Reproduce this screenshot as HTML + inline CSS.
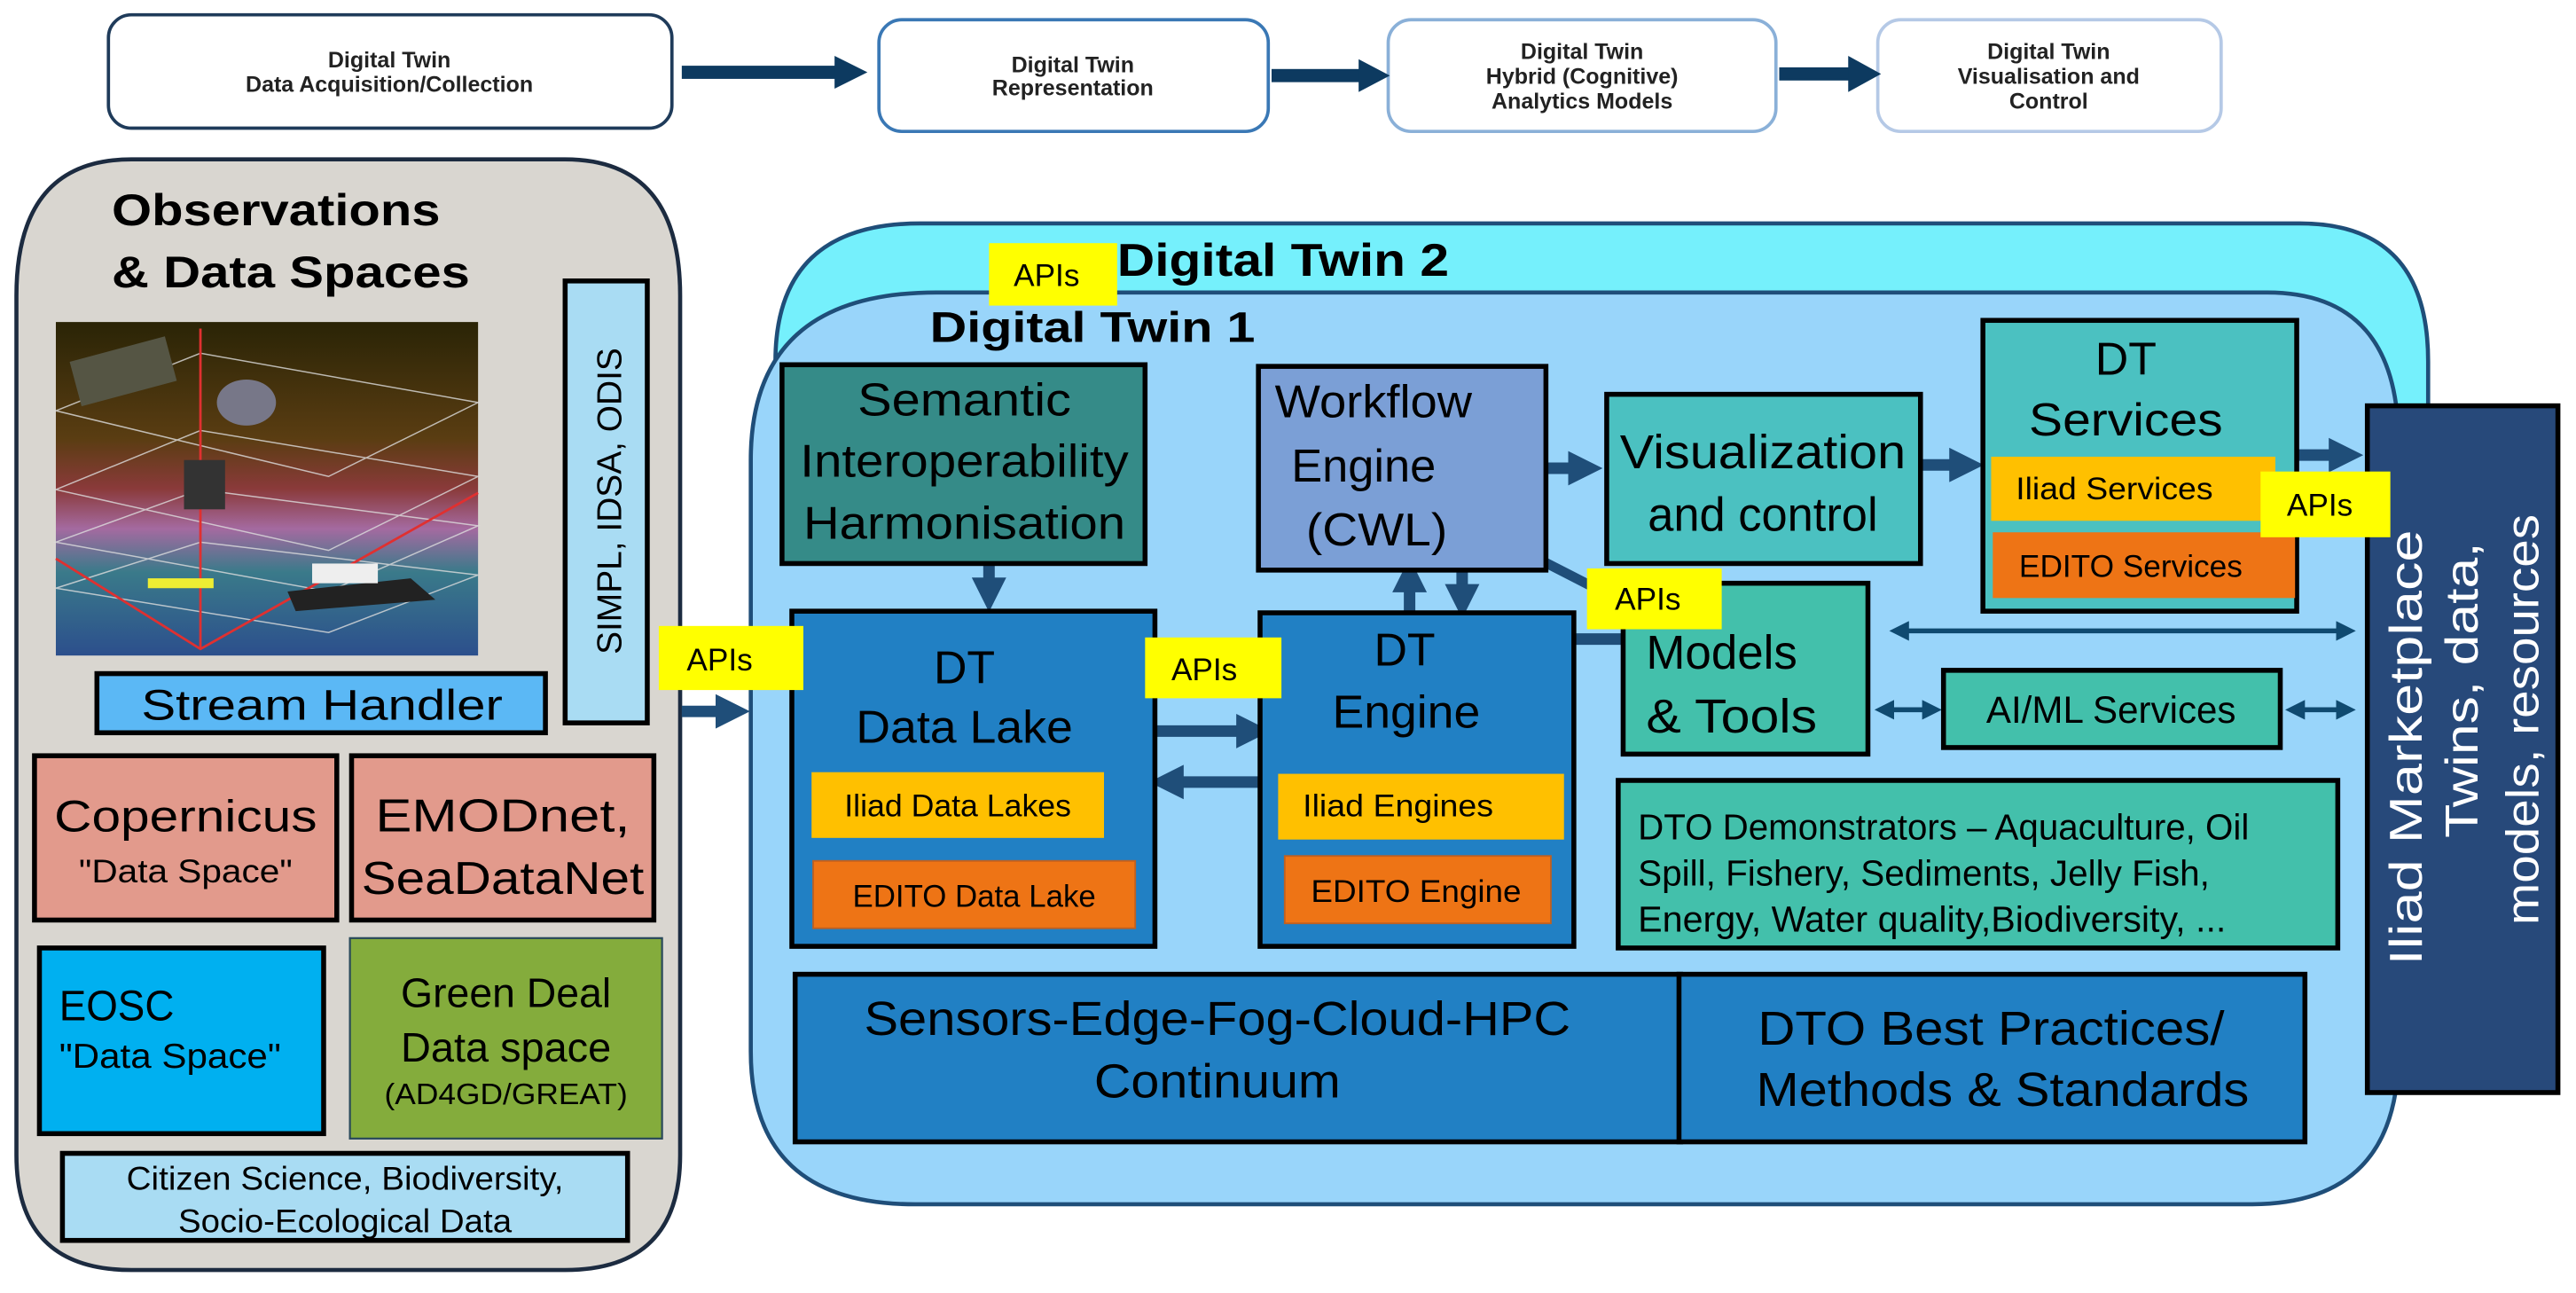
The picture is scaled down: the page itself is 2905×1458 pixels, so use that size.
<!DOCTYPE html>
<html><head><meta charset="utf-8"><style>
html,body{margin:0;padding:0;background:#fff}
svg{display:block}
text{font-family:"Liberation Sans",sans-serif}
</style></head><body>
<svg width="2905" height="1458" viewBox="0 0 1568 787" preserveAspectRatio="none" xmlns="http://www.w3.org/2000/svg">
<defs>
<marker id="ah" markerWidth="4" markerHeight="4" refX="2" refY="2" orient="auto" markerUnits="strokeWidth"><path d="M0,0 L4,2 L0,4 z" fill="#0f4a70"/></marker>
<marker id="ahs" markerWidth="4" markerHeight="4" refX="2" refY="2" orient="auto-start-reverse" markerUnits="strokeWidth"><path d="M0,0 L4,2 L0,4 z" fill="#0f4a70"/></marker>
<marker id="fat" markerWidth="3" markerHeight="3" refX="1.5" refY="1.5" orient="auto" markerUnits="strokeWidth"><path d="M0,0 L3,1.5 L0,3 z" fill="#1f4e79"/></marker>
<linearGradient id="sky" x1="0" y1="0" x2="0" y2="1"><stop offset="0" stop-color="#2a2406"/><stop offset="0.35" stop-color="#5a3d12"/><stop offset="0.5" stop-color="#8a3a3a"/><stop offset="0.62" stop-color="#a46aa0"/><stop offset="0.75" stop-color="#3a7a8a"/><stop offset="1" stop-color="#2c4f8c"/></linearGradient>
</defs>

<g font-weight="bold" font-size="13.5" text-anchor="middle" fill="#222">
<rect x="66" y="9" width="343" height="69" rx="14" fill="#fff" stroke="#1f3b5a" stroke-width="2"/>
<text x="237" y="41">Digital Twin</text><text x="237" y="56">Data Acquisition/Collection</text>
<rect x="535" y="12" width="237" height="68" rx="14" fill="#fff" stroke="#3a78b5" stroke-width="2"/>
<text x="653" y="44">Digital Twin</text><text x="653" y="58">Representation</text>
<rect x="845" y="12" width="236" height="68" rx="14" fill="#fff" stroke="#8ab0d8" stroke-width="2"/>
<text x="963" y="36">Digital Twin</text><text x="963" y="51">Hybrid (Cognitive)</text><text x="963" y="66">Analytics Models</text>
<rect x="1143" y="12" width="209" height="68" rx="14" fill="#fff" stroke="#b5c9e6" stroke-width="2"/>
<text x="1247" y="36">Digital Twin</text><text x="1247" y="51">Visualisation and</text><text x="1247" y="66">Control</text>
</g>
<g fill="#0d3a60">
<rect x="415" y="40" width="95" height="8"/><path d="M508,34 L528,44 L508,54 z"/>
<rect x="774" y="42" width="55" height="8"/><path d="M827,36 L846,46 L827,56 z"/>
<rect x="1083" y="41" width="44" height="8"/><path d="M1125,34 L1145,45 L1125,56 z"/>
</g>

<path d="M80,97 H344 Q414,97 414,180 V703 Q414,773 344,773 H80 Q10,773 10,703 V180 Q10,97 80,97 z" fill="#d9d6d0" stroke="#1c2b40" stroke-width="2.5"/>
<text x="68" y="137" font-size="27" font-weight="bold" fill="#000" textLength="200" lengthAdjust="spacingAndGlyphs">Observations</text>
<text x="68" y="175" font-size="27" font-weight="bold" fill="#000" textLength="218" lengthAdjust="spacingAndGlyphs">&amp; Data Spaces</text>
<rect x="34" y="196" width="257" height="203" fill="url(#sky)"/>
<g stroke="#ddd" stroke-width="0.8" fill="none" opacity="0.8">
<path d="M34,250 L122,215 L291,245 L200,290 z"/><path d="M34,298 L122,262 L291,290 L200,335 z"/><path d="M34,330 L122,298 L291,320 L200,360 z"/><path d="M34,358 L122,330 L291,350 L200,385 z"/>
</g>
<path d="M122,200 V395 M34,340 L122,395 L291,300" stroke="#e03030" stroke-width="1.5" fill="none"/>
<ellipse cx="150" cy="245" rx="18" ry="14" fill="#778"/><rect x="45" y="212" width="60" height="28" fill="#554" transform="rotate(-15 75 226)"/>
<rect x="112" y="280" width="25" height="30" fill="#333"/>
<path d="M175,360 L250,352 L265,365 L180,372 z" fill="#222"/><rect x="190" y="343" width="40" height="12" fill="#eee"/>
<rect x="90" y="352" width="40" height="6" fill="#ee3"/>
<rect x="344" y="171" width="50" height="269" fill="#a9dcf3" stroke="#000" stroke-width="3"/>
<text transform="translate(378,305) rotate(-90)" font-size="21" text-anchor="middle" fill="#000">SIMPL, IDSA, ODIS</text>
<rect x="59" y="410" width="273" height="36" fill="#5bb8f5" stroke="#000" stroke-width="3"/>
<text x="196" y="438" font-size="26" text-anchor="middle" textLength="220" lengthAdjust="spacingAndGlyphs">Stream Handler</text>
<rect x="21" y="460" width="184" height="100" fill="#e29a8c" stroke="#000" stroke-width="3"/>
<text x="113" y="506" font-size="27" text-anchor="middle" textLength="160" lengthAdjust="spacingAndGlyphs">Copernicus</text>
<text x="113" y="537" font-size="20" text-anchor="middle" textLength="130" lengthAdjust="spacingAndGlyphs">"Data Space"</text>
<rect x="214" y="460" width="184" height="100" fill="#e29a8c" stroke="#000" stroke-width="3"/>
<text x="306" y="506" font-size="28" text-anchor="middle" textLength="155" lengthAdjust="spacingAndGlyphs">EMODnet,</text>
<text x="306" y="544" font-size="28" text-anchor="middle" textLength="172" lengthAdjust="spacingAndGlyphs">SeaDataNet</text>
<rect x="24" y="577" width="173" height="113" fill="#00b0f0" stroke="#000" stroke-width="3"/>
<text x="36" y="621" font-size="26" textLength="70" lengthAdjust="spacingAndGlyphs">EOSC</text>
<text x="36" y="650" font-size="21" textLength="135" lengthAdjust="spacingAndGlyphs">"Data Space"</text>
<rect x="213" y="571" width="190" height="122" fill="#84ac3c" stroke="#2a4a5a" stroke-width="1.2"/>
<text x="308" y="613" font-size="25" text-anchor="middle" textLength="128" lengthAdjust="spacingAndGlyphs">Green Deal</text>
<text x="308" y="646" font-size="25" text-anchor="middle" textLength="128" lengthAdjust="spacingAndGlyphs">Data space</text>
<text x="308" y="672" font-size="18" text-anchor="middle" textLength="148" lengthAdjust="spacingAndGlyphs">(AD4GD/GREAT)</text>
<rect x="38" y="702" width="344" height="53" fill="#a9dcf3" stroke="#000" stroke-width="3"/>
<text x="210" y="724" font-size="20" text-anchor="middle" textLength="266" lengthAdjust="spacingAndGlyphs">Citizen Science, Biodiversity,</text>
<text x="210" y="750" font-size="20" text-anchor="middle" textLength="203" lengthAdjust="spacingAndGlyphs">Socio-Ecological Data</text>

<path d="M560,136 H1400 Q1478,136 1478,220 V500 H472 V220 Q472,136 560,136 z" fill="#75f0fc" stroke="#1f4e79" stroke-width="2.5"/>
<path d="M570,178 H1380 Q1460,178 1460,270 V640 Q1460,733 1370,733 H557 Q457,733 457,640 V280 Q457,178 570,178 z" fill="#99d5fa" stroke="#1f4e79" stroke-width="2.5"/>
<text x="680" y="168" font-size="28" font-weight="bold" textLength="202" lengthAdjust="spacingAndGlyphs">Digital Twin 2</text>
<text x="566" y="208" font-size="26" font-weight="bold" textLength="198" lengthAdjust="spacingAndGlyphs">Digital Twin 1</text>

<g stroke="#1f4e79" stroke-width="7" fill="none">
<line x1="415" y1="433" x2="446" y2="433" marker-end="url(#fat)"/>
<line x1="602" y1="343" x2="602" y2="362" marker-end="url(#fat)"/>
<line x1="697" y1="445" x2="763" y2="445" marker-end="url(#fat)"/>
<line x1="768" y1="476" x2="710" y2="476" marker-end="url(#fat)"/>
<line x1="858" y1="372" x2="858" y2="350" marker-end="url(#fat)"/>
<line x1="890" y1="340" x2="890" y2="366" marker-end="url(#fat)"/>
<line x1="935" y1="285" x2="965" y2="285" marker-end="url(#fat)"/>
<line x1="1169" y1="283" x2="1197" y2="283" marker-end="url(#fat)"/>
<line x1="1398" y1="277" x2="1428" y2="277" marker-end="url(#fat)"/>
<line x1="988" y1="389" x2="941" y2="389" marker-end="url(#fat)"/>
<line x1="936" y1="340" x2="975" y2="360" stroke-width="6"/>
</g>
<g stroke="#0f4a70" stroke-width="3" fill="none">
<line x1="1156" y1="384" x2="1428" y2="384" marker-start="url(#ahs)" marker-end="url(#ah)"/>
<line x1="1147" y1="432" x2="1176" y2="432" marker-start="url(#ahs)" marker-end="url(#ah)"/>
<line x1="1397" y1="432" x2="1428" y2="432" marker-start="url(#ahs)" marker-end="url(#ah)"/>
</g>

<rect x="476" y="222" width="221" height="121" fill="#358b88" stroke="#000" stroke-width="3"/>
<g font-size="28" text-anchor="middle">
<text x="587" y="253" textLength="130" lengthAdjust="spacingAndGlyphs">Semantic</text>
<text x="587" y="290" textLength="200" lengthAdjust="spacingAndGlyphs">Interoperability</text>
<text x="587" y="328" textLength="196" lengthAdjust="spacingAndGlyphs">Harmonisation</text>
</g>
<rect x="482" y="372" width="221" height="204" fill="#2180c4" stroke="#000" stroke-width="3"/>
<text x="587" y="416" font-size="28" text-anchor="middle">DT</text>
<text x="587" y="452" font-size="28" text-anchor="middle" textLength="132" lengthAdjust="spacingAndGlyphs">Data Lake</text>
<rect x="494" y="470" width="178" height="40" fill="#ffc000"/>
<text x="583" y="497" font-size="19" text-anchor="middle" textLength="138" lengthAdjust="spacingAndGlyphs">Iliad Data Lakes</text>
<rect x="495" y="524" width="196" height="41" fill="#ee7415" stroke="#c06020" stroke-width="1"/>
<text x="593" y="552" font-size="19" text-anchor="middle" textLength="148" lengthAdjust="spacingAndGlyphs">EDITO Data Lake</text>

<rect x="766" y="223" width="175" height="124" fill="#7b9fd6" stroke="#000" stroke-width="3"/>
<g font-size="28" text-anchor="middle">
<text x="836" y="254" textLength="120" lengthAdjust="spacingAndGlyphs">Workflow</text>
<text x="830" y="293" textLength="88" lengthAdjust="spacingAndGlyphs">Engine</text>
<text x="838" y="332" textLength="86" lengthAdjust="spacingAndGlyphs">(CWL)</text>
</g>
<rect x="767" y="373" width="191" height="203" fill="#2180c4" stroke="#000" stroke-width="3"/>
<text x="855" y="405" font-size="28" text-anchor="middle">DT</text>
<text x="856" y="443" font-size="28" text-anchor="middle" textLength="90" lengthAdjust="spacingAndGlyphs">Engine</text>
<rect x="778" y="471" width="174" height="40" fill="#ffc000"/>
<text x="851" y="497" font-size="19" text-anchor="middle" textLength="116" lengthAdjust="spacingAndGlyphs">Iliad Engines</text>
<rect x="782" y="521" width="162" height="41" fill="#ee7415" stroke="#c06020" stroke-width="1"/>
<text x="862" y="549" font-size="19" text-anchor="middle" textLength="128" lengthAdjust="spacingAndGlyphs">EDITO Engine</text>

<rect x="978" y="240" width="191" height="103" fill="#4bc1c1" stroke="#000" stroke-width="3"/>
<text x="1073" y="285" font-size="29" text-anchor="middle" textLength="174" lengthAdjust="spacingAndGlyphs">Visualization</text>
<text x="1073" y="323" font-size="29" text-anchor="middle" textLength="140" lengthAdjust="spacingAndGlyphs">and control</text>

<rect x="1207" y="195" width="191" height="177" fill="#4bc1c1" stroke="#000" stroke-width="3"/>
<text x="1294" y="228" font-size="28" text-anchor="middle">DT</text>
<text x="1294" y="265" font-size="28" text-anchor="middle" textLength="118" lengthAdjust="spacingAndGlyphs">Services</text>
<rect x="1212" y="278" width="173" height="39" fill="#ffc000"/>
<text x="1227" y="304" font-size="19" textLength="120" lengthAdjust="spacingAndGlyphs">Iliad Services</text>
<rect x="1213" y="324" width="184" height="40" fill="#ee7415"/>
<text x="1229" y="351" font-size="19" textLength="136" lengthAdjust="spacingAndGlyphs">EDITO Services</text>

<rect x="988" y="355" width="149" height="104" fill="#43c0ab" stroke="#000" stroke-width="3"/>
<text x="1002" y="407" font-size="29" textLength="92" lengthAdjust="spacingAndGlyphs">Models</text>
<text x="1002" y="446" font-size="29" textLength="104" lengthAdjust="spacingAndGlyphs">&amp; Tools</text>
<rect x="1183" y="408" width="205" height="47" fill="#43c0ab" stroke="#000" stroke-width="3"/>
<text x="1285" y="440" font-size="23" text-anchor="middle" textLength="152" lengthAdjust="spacingAndGlyphs">AI/ML Services</text>
<rect x="985" y="475" width="438" height="102" fill="#43c0ab" stroke="#000" stroke-width="3"/>
<g font-size="22">
<text x="997" y="511" textLength="372" lengthAdjust="spacingAndGlyphs">DTO Demonstrators – Aquaculture, Oil</text>
<text x="997" y="539" textLength="348" lengthAdjust="spacingAndGlyphs">Spill, Fishery, Sediments, Jelly Fish,</text>
<text x="997" y="567" textLength="358" lengthAdjust="spacingAndGlyphs">Energy, Water quality,Biodiversity, ...</text>
</g>

<rect x="484" y="593" width="539" height="102" fill="#2180c4" stroke="#000" stroke-width="3"/>
<text x="741" y="630" font-size="29" text-anchor="middle" textLength="430" lengthAdjust="spacingAndGlyphs">Sensors-Edge-Fog-Cloud-HPC</text>
<text x="741" y="668" font-size="29" text-anchor="middle" textLength="150" lengthAdjust="spacingAndGlyphs">Continuum</text>
<rect x="1022" y="593" width="381" height="102" fill="#2180c4" stroke="#000" stroke-width="3"/>
<text x="1212" y="636" font-size="29" text-anchor="middle" textLength="284" lengthAdjust="spacingAndGlyphs">DTO Best Practices/</text>
<text x="1219" y="673" font-size="29" text-anchor="middle" textLength="300" lengthAdjust="spacingAndGlyphs">Methods &amp; Standards</text>

<rect x="1441" y="247" width="116" height="418" fill="#27497a" stroke="#000" stroke-width="3"/>
<g fill="#fff" font-size="28" text-anchor="middle">
<text transform="translate(1474,455) rotate(-90)" textLength="265" lengthAdjust="spacingAndGlyphs">Iliad Marketplace</text>
<text transform="translate(1508,420) rotate(-90)" textLength="180" lengthAdjust="spacingAndGlyphs">Twins, data,</text>
<text transform="translate(1545,438) rotate(-90)" textLength="250" lengthAdjust="spacingAndGlyphs">models, resources</text>
</g>

<g font-size="19">
<rect x="602" y="148" width="78" height="38" fill="#ffff00"/><text x="617" y="174">APIs</text>
<rect x="401" y="381" width="88" height="39" fill="#ffff00"/><text x="418" y="408">APIs</text>
<rect x="697" y="388" width="83" height="37" fill="#ffff00"/><text x="713" y="414">APIs</text>
<rect x="966" y="346" width="82" height="37" fill="#ffff00"/><text x="983" y="371">APIs</text>
<rect x="1376" y="287" width="79" height="40" fill="#ffff00"/><text x="1392" y="314">APIs</text>
</g>
</svg>
</body></html>
